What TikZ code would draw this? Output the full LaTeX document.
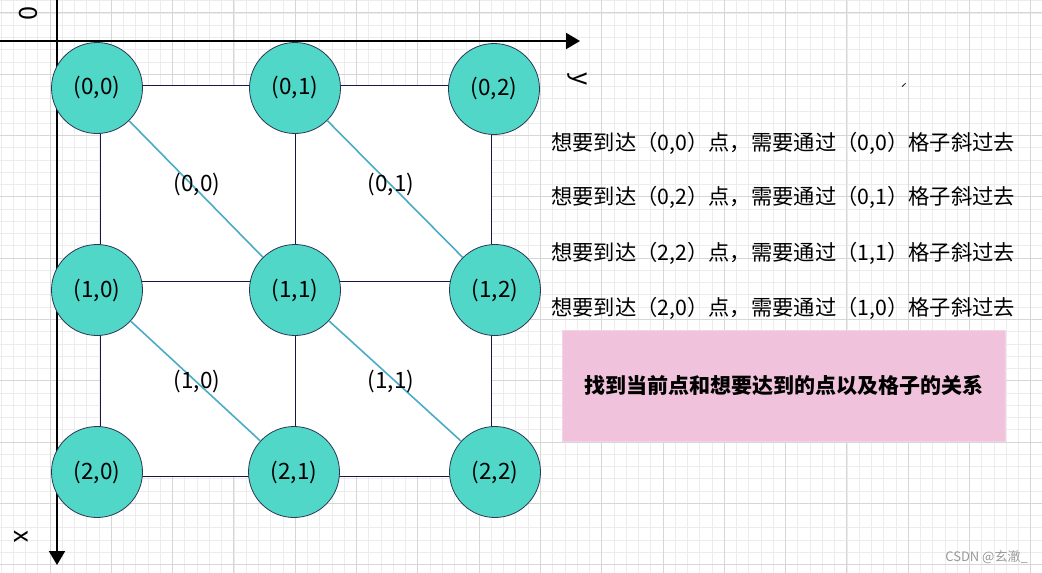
\documentclass[tikz,border=0pt]{standalone}
\usepackage{fontspec}
\setmainfont{Noto Sans CJK SC}
\usetikzlibrary{arrows.meta}
\definecolor{gminor}{RGB}{236,236,236}
\definecolor{gmajor}{RGB}{214,214,214}
\definecolor{turq}{RGB}{80,215,199}
\definecolor{cborder}{RGB}{45,55,85}
\definecolor{navy}{RGB}{22,22,72}
\definecolor{diag}{RGB}{75,172,198}
\definecolor{pinkbox}{RGB}{240,194,220}
\definecolor{pinkedge}{RGB}{246,210,230}
\tikzset{
  minorline/.style={draw=gminor, line width=0.8pt},
  majorline/.style={draw=gmajor, line width=0.9pt},
  pt/.style={circle, draw=cborder, fill=turq, line width=0.8pt, minimum size=91pt, inner sep=0pt, font=\fontsize{22.5}{26}\selectfont},
  cellline/.style={draw=navy, line width=0.9pt},
  diagline/.style={draw=diag, line width=1.6pt},
  celllabel/.style={font=\fontsize{22.5}{26}\selectfont, inner sep=0pt},
  axis/.style={draw=black, line width=2pt, -{Triangle[length=14pt,width=16pt]}},
  axlabel/.style={font=\fontsize{25}{28}\selectfont, inner sep=0pt, rotate=-90},
  note/.style={font=\fontsize{21.3}{25}\selectfont, anchor=west, inner sep=0pt},
}
\begin{document}
\begin{tikzpicture}[x=1pt,y=-1pt]
\useasboundingbox (0,0) rectangle (1042,573);
\fill[white] (0,0) rectangle (1042,573);
% background grid
\foreach \i in {0,...,85} {
  \draw[minorline] ({0.96+12.26*\i},0) -- ({0.96+12.26*\i},573);
}
\foreach \i in {0,...,47} {
  \draw[minorline] (0,{0.64+12.26*\i}) -- (1042,{0.64+12.26*\i});
}
\foreach \i in {0,...,17} {
  \draw[majorline] ({-11.3+61.3*\i},0) -- ({-11.3+61.3*\i},573);
}
\foreach \i in {0,...,9} {
  \draw[majorline] (0,{12.9+61.3*\i}) -- (1042,{12.9+61.3*\i});
}
% cells
\fill[white] (100,85) rectangle (491,476);
\draw[cellline] (100,85) rectangle (491,476);
\draw[cellline] (295,85) -- (295,476);
\draw[cellline] (100,281) -- (491,281);
% axes
\coordinate (xs) at (0,41);
\coordinate (xe) at (580,41);
\coordinate (ys) at (57,0);
\coordinate (ye) at (57,565);
\draw[axis] (xs) -- (xe);
\draw[axis] (ys) -- (ye);
\node[axlabel] (lab0) at (28,13) {0};
\node[axlabel] (laby) at (577,79) {y};
\node[axlabel] (labx) at (21,537) {x};
% points
\node[pt] (c00) at (97,88) {(0,0)};
\node[pt] (c01) at (295,88) {(0,1)};
\node[pt] (c02) at (494,89) {(0,2)};
\node[pt] (c10) at (97,290) {(1,0)};
\node[pt] (c11) at (295,290) {(1,1)};
\node[pt] (c12) at (495,290) {(1,2)};
\node[pt] (c20) at (97,472) {(2,0)};
\node[pt] (c21) at (294,472) {(2,1)};
\node[pt] (c22) at (495,472) {(2,2)};
% diagonals
\draw[diagline] (c00) -- (c11);
\draw[diagline] (c01) -- (c12);
\draw[diagline] (c10) -- (c21);
\draw[diagline] (c11) -- (c22);
\node[celllabel] (g00) at (197,184) {(0,0)};
\node[celllabel] (g01) at (391,184) {(0,1)};
\node[celllabel] (g10) at (197,381) {(1,0)};
\node[celllabel] (g11) at (391,381) {(1,1)};
% notes
\node[note] (n1) at (551,143) {想要到达（0,0）点，需要通过（0,0）格子斜过去};
\node[note] (n2) at (551,197) {想要到达（0,2）点，需要通过（0,1）格子斜过去};
\node[note] (n3) at (551,253) {想要到达（2,2）点，需要通过（1,1）格子斜过去};
\node[note] (n4) at (551,308) {想要到达（2,0）点，需要通过（1,0）格子斜过去};
\node[font=\fontsize{12}{12}\selectfont, inner sep=0pt] (tick) at (904,88) {ˊ};
\node[draw=pinkedge, fill=pinkbox, line width=0.8pt, minimum width=443pt, minimum height=111pt, inner sep=0pt, font=\bfseries\fontsize{21}{24}\selectfont] (box) at (783.5,385.5) {找到当前点和想要达到的点以及格子的关系};
\node[font=\fontsize{13}{13}\selectfont, text=gray!80, inner sep=0pt, anchor=east] (wm) at (1028,557) {CSDN @玄澈\_};
\end{tikzpicture}
\end{document}
